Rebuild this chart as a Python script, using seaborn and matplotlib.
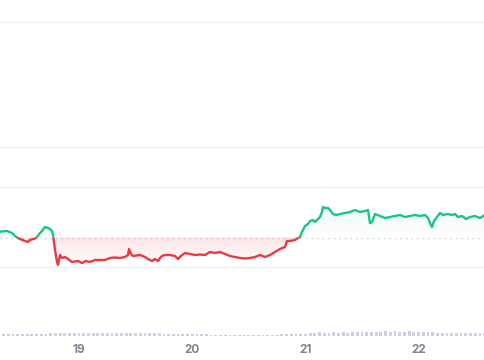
import numpy as np
import matplotlib
matplotlib.use("Agg")
import matplotlib.pyplot as plt
import seaborn as sns
from matplotlib.path import Path
from matplotlib.patches import Rectangle
from matplotlib.colors import to_rgb

# price trace: hours since the 18th 00:00, price level
hours = [7.25, 8.74, 9.80, 10.43, 11.07, 11.49, 12.55, 13.19, 13.61, 14.67, 15.10, 15.73,
         16.16, 16.79, 17.43, 17.85, 18.28, 18.49, 18.91, 19.34, 19.55, 19.97, 20.40, 21.03,
         21.67, 22.52, 23.79, 24.64, 25.48, 26.33, 27.39, 28.45,
         29.51, 30.57, 31.63, 32.69, 33.75, 34.39, 34.60, 35.02, 35.45, 36.93, 37.99, 38.63,
         39.48, 40.11, 40.75, 41.17, 41.60, 42.23, 43.29, 44.35, 44.99, 45.62, 46.47, 47.53,
         48.59, 49.65,
         50.71, 51.77, 52.83, 53.89, 54.95, 56.01, 57.07, 58.13, 59.19, 60.25, 61.31, 62.37,
         63.43, 64.49, 65.55, 66.61, 67.67, 68.10, 68.73, 69.79, 70.43, 70.85,
         71.28, 71.91, 72.55, 72.97, 73.61, 74.03, 74.67, 75.09, 75.51, 75.73, 76.15, 76.79,
         77.21, 77.85, 78.48, 79.33, 80.39, 81.45, 82.51, 83.57, 84.63, 85.27, 85.69, 86.12,
         86.75, 87.81, 88.87, 89.93, 90.99, 92.05,
         93.11, 94.17, 95.23, 96.29, 97.35, 97.99, 98.41, 98.84, 99.26, 99.90, 100.53, 101.17,
         102.23, 103.08, 103.71, 104.35, 105.20, 106.04, 106.89, 107.95, 109.01, 110.07]
price = [128.3, 129, 127, 124, 122, 121, 119, 118, 120, 121.5, 123, 127,
         129, 133, 132, 131, 129, 125, 110, 98, 95, 105, 102, 103,
         101, 98, 99, 97, 99, 98, 100, 100,
         100, 102, 102.5, 102, 103, 105, 111, 106, 104, 105, 103, 101,
         99, 101, 99, 102, 104, 105, 105, 104, 101, 104, 107, 106,
         105, 105.5,
         105, 108, 107, 108, 106, 104, 103, 102, 101.5, 102, 103, 105,
         103, 105, 108, 111, 113, 119, 119, 120, 122, 123,
         128, 134, 136, 139, 140, 138, 141, 143, 148, 153, 152, 152,
         150, 146, 145, 146, 147, 148, 150, 148, 149, 150, 137, 138,
         146, 144, 142, 143, 144, 145,
         143, 144, 145, 144, 145, 142, 137, 133, 139, 143, 147, 145,
         146, 145, 146, 143, 144, 141, 143, 144, 142, 145]
baseline = 122.5

# hourly volume
vol_hours = list(range(7, 111))
volume = [1.8, 2.0, 1.6, 1.9, 2.1, 1.7, 2.0, 1.8, 2.2, 1.9, 2.3, 2.6,
          3.2, 3.0, 3.3, 2.9, 3.1, 3.4, 3.0, 3.2, 2.8, 3.1, 3.3, 3.0,
          3.2, 2.9, 3.1, 3.0, 3.3, 3.1, 2.9, 3.2, 3.0, 2.8, 2.7, 2.5,
          2.3, 2.1, 2.4, 2.2, 2.0, 2.3, 2.1, 1.9, 1.7, 1.5,
          1.3, 1.2, 1.4, 1.1, 1.3, 1.2, 1.0, 1.2, 1.3, 1.1, 1.2, 1.0,
          1.3, 1.4, 1.6, 1.8, 2.0, 1.9, 2.1,
          2.4, 3.0, 3.4, 3.6, 3.3, 3.5, 3.7, 3.4, 3.6, 3.5, 3.8, 3.9,
          4.2, 4.0, 4.4,
          4.5, 4.3, 4.6, 4.4, 4.7, 4.5, 4.3, 4.6, 4.4, 4.5, 4.2, 4.0, 3.6,
          3.1, 3.0, 3.2, 2.9, 3.1, 3.0, 2.8, 3.1, 3.0, 2.9, 3.0]

grid_levels = [93, 173, 213, 338]
tick_hours = [24, 48, 72, 96]
tick_labels = ["19", "20", "21", "22"]

GREEN = "#16c784"
RED = "#ea3943"
XMIN, XMAX = 7.25, 110.07

sns.set_theme(style="white")
plt.rcParams["font.family"] = ["Inter", "DejaVu Sans"]

fig = plt.figure(figsize=(4.85, 3.6), dpi=100)
ax = fig.add_axes([0, 0, 1, 1])
ax.axis("off")

for g in grid_levels:
    ax.axhline(g, color="#eef0f3", lw=0.9, zorder=0)
ax.axhline(baseline, color="#c8ccd4", lw=1.0, ls=(0, (1, 3)), zorder=1)

hrs = np.array(hours)
prc = np.array(price)


def gradient_fill(where, color, y0, y1, a0, a1):
    poly = ax.fill_between(hrs, prc, baseline, where=where, interpolate=True,
                           facecolor="none", edgecolor="none")
    path = Path.make_compound_path(*poly.get_paths())
    img = np.zeros((100, 1, 4))
    img[..., :3] = to_rgb(color)
    img[..., 3] = np.linspace(a0, a1, 100)[:, None]
    im = ax.imshow(img, extent=[XMIN, XMAX, y0, y1], origin="lower",
                   aspect="auto", zorder=1, interpolation="bilinear")
    im.set_clip_path(path, transform=ax.transData)


gradient_fill(prc >= baseline, GREEN, baseline, 155, 0.0, 0.09)
gradient_fill(prc <= baseline, RED, 94, baseline, 0.02, 0.13)

# line coloured by side of the baseline
sns.lineplot(x=hours, y=price, color=GREEN, lw=1.7, sort=False, ax=ax, zorder=3)
sns.lineplot(x=hours, y=price, color=RED, lw=1.7, sort=False, ax=ax, zorder=3)
up_line, down_line = ax.lines[-2], ax.lines[-1]
up_line.set_clip_path(Rectangle((XMIN, baseline), XMAX - XMIN, 400, transform=ax.transData))
down_line.set_clip_path(Rectangle((XMIN, -10), XMAX - XMIN, baseline + 10, transform=ax.transData))

ax.set_xlim(XMIN, XMAX)
ax.set_ylim(0, 360)

# volume strip
vax = fig.add_axes([0, (360 - 336) / 360, 1, 7.2 / 360])
sns.barplot(x=vol_hours, y=volume, native_scale=True, width=0.6, color="#cdd0e4",
            saturation=1, linewidth=0, edgecolor="none", ax=vax)
vax.set_xlim(XMIN, XMAX)
vax.set_ylim(0, 7.2)
vax.set_facecolor("none")
for s in vax.spines.values():
    s.set_visible(False)
vax.set_yticks([])
vax.set_xlabel("")
vax.set_ylabel("")
vax.set_xticks(tick_hours, tick_labels)
vax.tick_params(axis="x", length=0, pad=6, labelsize=8.5, labelcolor="#7d8493")
for lbl in vax.get_xticklabels():
    lbl.set_fontweight("bold")

fig.savefig("out.png", dpi=100)
